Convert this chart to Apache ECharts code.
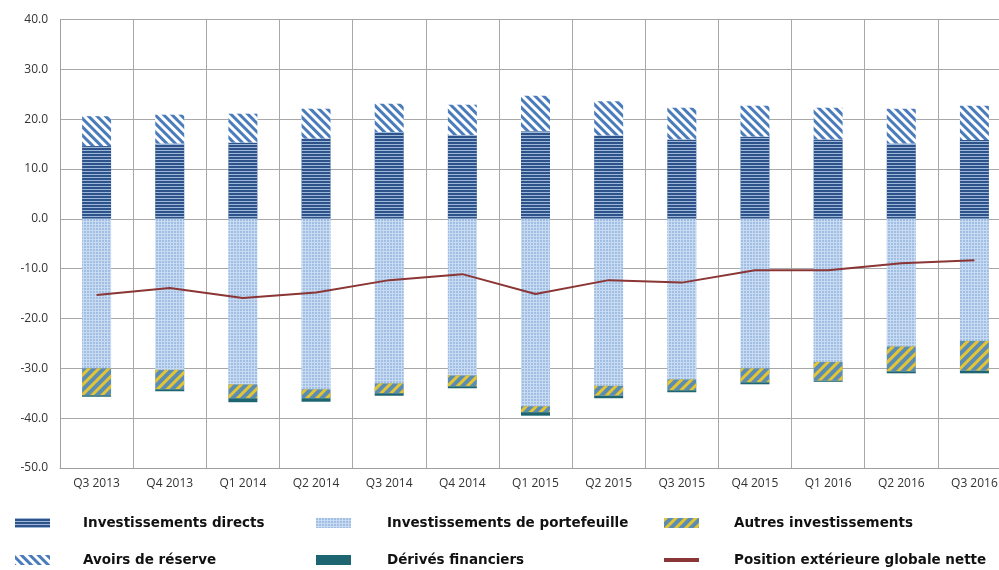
<!DOCTYPE html>
<html>
<head>
<meta charset="utf-8">
<script src="https://cdn.jsdelivr.net/npm/echarts@6/dist/echarts.min.js"></script>
<style>html,body{margin:0;padding:0;background:#fff;}#c{width:999px;height:570px;}</style>
</head>
<body>
<div id="c"></div>
<script>
var categories = ['Q3 2013','Q4 2013','Q1 2014','Q2 2014','Q3 2014','Q4 2014','Q1 2015','Q2 2015','Q3 2015','Q4 2015','Q1 2016','Q2 2016','Q3 2016'];
var investDirects = [14.6,15.1,15.3,16.1,17.4,16.8,17.6,16.7,15.9,16.5,15.9,15.1,15.8];
var avoirsReserve = [6.0,5.8,5.8,6.0,5.7,6.1,7.1,6.9,6.4,6.2,6.4,7.0,6.9];
var investPortefeuille = [-30.0,-30.3,-33.2,-34.2,-33.0,-31.4,-37.6,-33.5,-32.2,-30.0,-28.7,-25.6,-24.5];
var autresInvest = [-5.4,-3.9,-2.8,-1.8,-2.0,-2.2,-1.2,-2.0,-2.2,-2.8,-3.8,-5.0,-6.0];
var derivesFin = [-0.3,-0.4,-0.8,-0.7,-0.5,-0.4,-0.7,-0.5,-0.4,-0.4,-0.2,-0.4,-0.5];
var positionNette = [-15.3,-13.9,-15.9,-14.8,-12.3,-11.1,-15.1,-12.3,-12.8,-10.3,-10.3,-8.9,-8.3];

var N1 = 'Investissements directs', N2 = 'Investissements de portefeuille', N3 = 'Autres investissements',
    N4 = 'Avoirs de réserve', N5 = 'Dérivés financiers', N6 = 'Position extérieure globale nette';

var chart = echarts.init(document.getElementById('c'));
var legTxt = {fontFamily:'DejaVu Sans, sans-serif', fontWeight:'bold', fontSize:13.5, color:'#111'};
function leg(name, left, top, pad, extra) {
  var d = Object.assign({name:name, icon:'rect'}, extra || {});
  return {data:[d], left:left, top:top, padding:0, itemWidth:35, itemHeight:10, selectedMode:false,
    textStyle:Object.assign({padding:[0,0,0,pad]}, legTxt)};
}
var barW = 29;
var axFont = {color:'#333', fontSize:12, fontFamily:'Open Sans, sans-serif'};
chart.setOption({
  animation:false,
  grid:{left:60, width:951, top:19.5, bottom:102, outerBoundsMode:'none', containLabel:false},
  legend:[
    leg(N1, 15, 516, 28),
    leg(N2, 316, 516, 31),
    leg(N3, 664, 516, 30),
    leg(N4, 15, 553, 28),
    leg(N5, 316, 553, 31),
    Object.assign(leg(N6, 664, 553, 30, {itemStyle:{color:'#8b3535'}}), {itemHeight:4})
  ],
  xAxis:{type:'category', data:categories, boundaryGap:true,
    axisLine:{onZero:false, lineStyle:{color:'#a0a0a0'}}, axisTick:{show:false},
    splitLine:{show:true, lineStyle:{color:'#a8a8a8', width:1}},
    axisLabel:Object.assign({margin:10, interval:0}, axFont)},
  yAxis:{type:'value', min:-50, max:40, interval:10,
    axisLine:{show:true, lineStyle:{color:'#a0a0a0'}}, axisTick:{show:false},
    splitLine:{lineStyle:{color:'#a8a8a8', width:1}},
    axisLabel:Object.assign({margin:12, formatter:function(v){return v.toFixed(1);}}, axFont)},
  series:[
    {name:N1, type:'bar', stack:'a', barWidth:barW, data:investDirects,
      itemStyle:{color:'#2d538a', decal:{symbol:'rect', color:'rgba(185,208,238,0.8)', dashArrayX:[1,0], dashArrayY:[1,2], rotation:0}}},
    {name:N4, type:'bar', stack:'a', barWidth:barW, data:avoirsReserve,
      itemStyle:{color:'#ffffff', decal:{symbol:'rect', color:'#4a7cbb', dashArrayX:[1,0], dashArrayY:[3,3], rotation:Math.PI/4}}},
    {name:N2, type:'bar', stack:'a', barWidth:barW, data:investPortefeuille,
      itemStyle:{color:'#c8dbf2', decal:{symbol:'circle', color:'#8eb1dc', dashArrayX:[2,1], dashArrayY:[2,1], symbolSize:0.9, rotation:0}}},
    {name:N3, type:'bar', stack:'a', barWidth:barW, data:autresInvest,
      itemStyle:{color:'#5b8cb2', decal:{symbol:'rect', color:'#e3c434', dashArrayX:[1,0], dashArrayY:[3,4], rotation:-Math.PI/4}}},
    {name:N5, type:'bar', stack:'a', barWidth:barW, data:derivesFin,
      itemStyle:{color:'#1d6570'}},
    {name:N6, type:'line', data:positionNette, symbol:'none', z:5,
      lineStyle:{color:'#8b3535', width:2}, itemStyle:{color:'#8b3535'}}
  ]
});
</script>
</body>
</html>
